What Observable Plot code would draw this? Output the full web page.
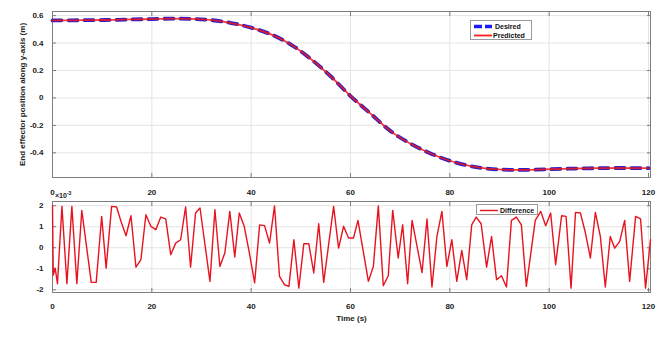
<!DOCTYPE html>
<html><head><meta charset="utf-8">
<script src="https://cdn.jsdelivr.net/npm/d3@7"></script>
<script src="https://cdn.jsdelivr.net/npm/@observablehq/plot@0.6"></script>
<style>
html,body{margin:0;padding:0;background:#fff;}
#root{position:relative;width:662px;height:337px;overflow:hidden;font-family:"Liberation Sans",Arial,sans-serif;}
.p{position:absolute;left:0;}
.legend{position:absolute;background:#fff;border:1px solid #9a9a9a;font-weight:bold;font-size:7px;color:#111;box-sizing:border-box;}
.row{position:absolute;left:0;right:0;height:9px;}
.row svg{position:absolute;left:2px;top:0;}
.row span{position:absolute;top:0;line-height:9px;}
.mult{position:absolute;left:55px;top:190px;font-size:7px;font-weight:bold;color:#222;}
.mult sup{font-size:5px;}
</style></head><body><div id="root"></div>
<script>
// ---- data ----
const trajTime = [0,4,8,12,16,20,24,28,32,36,40,44,48,52,56,60,64,68,72,76,80,84,88,92,96,100,104,108,112,116,120];
const desired = [0.565,0.566,0.567,0.569,0.572,0.575,0.578,0.576,0.567,0.546,0.512,0.463,0.389,0.284,0.158,0.014,-0.113,-0.240,-0.332,-0.403,-0.458,-0.496,-0.517,-0.524,-0.524,-0.520,-0.516,-0.513,-0.511,-0.511,-0.512];
const predicted = [0.565,0.566,0.567,0.569,0.572,0.575,0.578,0.576,0.567,0.546,0.512,0.463,0.389,0.284,0.158,0.014,-0.113,-0.240,-0.332,-0.403,-0.458,-0.496,-0.517,-0.524,-0.524,-0.520,-0.516,-0.513,-0.511,-0.511,-0.512];

const diffTime = [0,0.15,0.54,1.0,1.9,2.9,3.9,4.9,5.9,7.8,8.8,9.9,10.8,11.9,12.9,13.8,14.8,15.8,16.8,17.8,18.8,19.8,20.8,21.8,22.8,
 23.8,24.8,25.8,26.8,27.8,28.8,29.7,31.7,32.7,33.7,34.7,35.7,36.7,37.6,38.6,39.6,40.7,41.7,42.7,43.7,44.7,45.7,46.7,47.6,
 48.6,49.6,50.6,51.6,52.6,53.6,54.6,56.6,57.6,58.6,59.6,60.6,61.5,63.6,64.6,65.6,66.6,67.6,68.5,69.6,70.5,71.5,
 72.4,74.4,75.4,76.4,77.4,78.4,79.4,80.4,81.4,82.4,83.4,84.4,85.3,86.3,87.4,88.4,89.4,90.4,91.4,92.4,93.4,94.4,95.4,
 97.2,98.3,99.3,100.3,101.3,102.5,103.4,104.4,105.3,106.3,107.3,108.3,109.3,110.3,111.3,112.3,113.2,114.2,115.2,116.2,117.4,118.4,119.4,120.4];
const difference = [2.0,-1.3,-0.97,-1.71,1.97,-1.71,1.97,-1.71,1.78,-1.65,-1.65,1.49,-0.97,1.97,1.94,1.25,0.57,1.52,-0.92,-0.57,1.57,1.02,0.86,1.46,1.37,
 -0.33,0.22,0.38,1.94,-0.92,1.65,1.89,-1.6,1.81,-0.89,-0.25,1.73,-0.44,1.65,1.02,-0.2,-1.67,1.09,1.05,0.22,1.99,-1.36,-1.76,-1.84,
 0.38,-1.92,0.19,0.19,-1.2,1.14,-1.65,1.97,-0.02,1.02,0.46,0.46,1.3,-1.6,-0.89,1.99,-1.81,-1.33,1.78,-0.49,1.09,-1.71,
 1.3,-1.18,1.37,-1.87,0.54,1.73,-0.89,0.38,-1.6,-0.13,-1.52,1.09,1.46,1.14,-0.92,0.54,-1.52,-1.33,-1.87,1.3,1.46,1.09,-1.84,
 1.3,1.73,1.05,1.65,-0.81,1.52,1.49,-1.92,1.68,1.65,0.7,-0.49,1.68,0.54,-1.87,0.54,-0.02,0.3,1.3,-1.6,1.49,1.37,-1.92,0.38];

const xTicks = [0,20,40,60,80,100,120];
const yTicksTop = [-0.4,-0.2,0,0.2,0.4,0.6];
const yTicksBottom = [-2,-1,0,1,2];

const trajRows = trajTime.map((t,i)=>({t, desired: desired[i], predicted: predicted[i]}));
const diffRows = diffTime.map((t,i)=>({t, v: difference[i]}));

const font = '"Liberation Sans", Arial, sans-serif';
const styleCommon = {background:"transparent", overflow:"visible", fontFamily: font, fontSize:"8px", fontWeight:"bold", color:"#222"};
const fmt = d => String(d);
const gridStroke = "#e4e4e4";
const frameStroke = "#7d7d7d";

const topPlot = Plot.plot({
  width: 662, height: 200,
  marginLeft: 52, marginRight: 12, marginTop: 11, marginBottom: 23,
  style: styleCommon,
  x: {domain: [0, 120.4]},
  y: {domain: [-0.58, 0.63]},
  marks: [
    Plot.gridX(xTicks, {stroke: gridStroke, strokeOpacity: 1}),
    Plot.gridY(yTicksTop, {stroke: gridStroke, strokeOpacity: 1}),
    Plot.axisX(xTicks, {anchor:"bottom", tickSize:-4, tickPadding:16, tickFormat: fmt, stroke: frameStroke, label: null}),
    Plot.axisX(xTicks, {anchor:"top", tickSize:-4, tickFormat: () => "", stroke: frameStroke, label: null}),
    Plot.axisY(yTicksTop, {anchor:"left", tickSize:-4, tickPadding:13, tickFormat: fmt, stroke: frameStroke,
      label: "End effector position along y-axis (m)", labelAnchor:"center", labelOffset: 33, labelArrow: "none"}),
    Plot.axisY(yTicksTop, {anchor:"right", tickSize:-4, tickFormat: () => "", stroke: frameStroke, label: null}),
    Plot.frame({stroke: frameStroke}),
    Plot.line(trajRows, {x:"t", y:"desired", stroke:"#2a1fc8", strokeWidth:3.8, strokeDasharray:"9,7", curve:"catmull-rom"}),
    Plot.line(trajRows, {x:"t", y:"predicted", stroke:"#f21a1a", strokeWidth:1.8, strokeOpacity:0.85, curve:"catmull-rom"})
  ]
});

const bottomPlot = Plot.plot({
  width: 662, height: 151,
  marginLeft: 52, marginRight: 12, marginTop: 15, marginBottom: 45,
  style: styleCommon,
  x: {domain: [0, 120.4]},
  y: {domain: [-2.13, 2.2]},
  marks: [
    Plot.gridX(xTicks, {stroke: gridStroke, strokeOpacity: 1}),
    Plot.gridY(yTicksBottom, {stroke: gridStroke, strokeOpacity: 1}),
    Plot.axisX(xTicks, {anchor:"bottom", tickSize:-4, tickPadding:15, tickFormat: fmt, stroke: frameStroke,
      label: "Time (s)", labelAnchor:"center", labelOffset: 28, labelArrow:"none"}),
    Plot.axisX(xTicks, {anchor:"top", tickSize:-4, tickFormat: () => "", stroke: frameStroke, label: null}),
    Plot.axisY(yTicksBottom, {anchor:"left", tickSize:-4, tickPadding:13, tickFormat: fmt, stroke: frameStroke, label: null}),
    Plot.axisY(yTicksBottom, {anchor:"right", tickSize:-4, tickFormat: () => "", stroke: frameStroke, label: null}),
    Plot.frame({stroke: frameStroke}),
    Plot.line(diffRows, {x:"t", y:"v", stroke:"#e8131f", strokeWidth:1.4})
  ]
});

const root = document.getElementById("root");
topPlot.classList.add("p"); topPlot.style.top = "0px";
bottomPlot.classList.add("p"); bottomPlot.style.top = "186px";
root.appendChild(topPlot);
root.appendChild(bottomPlot);

// multiplier label
const mult = document.createElement("div");
mult.className = "mult";
mult.innerHTML = "×10<sup>-3</sup>";
root.appendChild(mult);

// legends
function legend(left, top, width, entries) {
  const box = document.createElement("div");
  box.className = "legend";
  box.style.left = left + "px"; box.style.top = top + "px"; box.style.width = width + "px";
  box.style.height = (entries.length * 9 + 2) + "px";
  entries.forEach((e, i) => {
    const row = document.createElement("div");
    row.className = "row"; row.style.top = (1 + i * 9) + "px";
    row.innerHTML = `<svg width="20" height="9"><line x1="1" x2="19" y1="4.5" y2="4.5" stroke="${e.color}" stroke-width="${e.width}" ${e.dash ? `stroke-dasharray="${e.dash}"` : ""}/></svg><span style="left:${e.textLeft}px">${e.label}</span>`;
    box.appendChild(row);
  });
  root.appendChild(box);
}
legend(470, 20, 62, [
  {label:"Desired", color:"#1a1aff", width:3.4, dash:"8,3", textLeft:24},
  {label:"Predicted", color:"#ff1a1a", width:1.8, textLeft:22}
]);
legend(476, 204, 62, [
  {label:"Difference", color:"#e8131f", width:1.4, textLeft:23}
]);
</script>
</body></html>
